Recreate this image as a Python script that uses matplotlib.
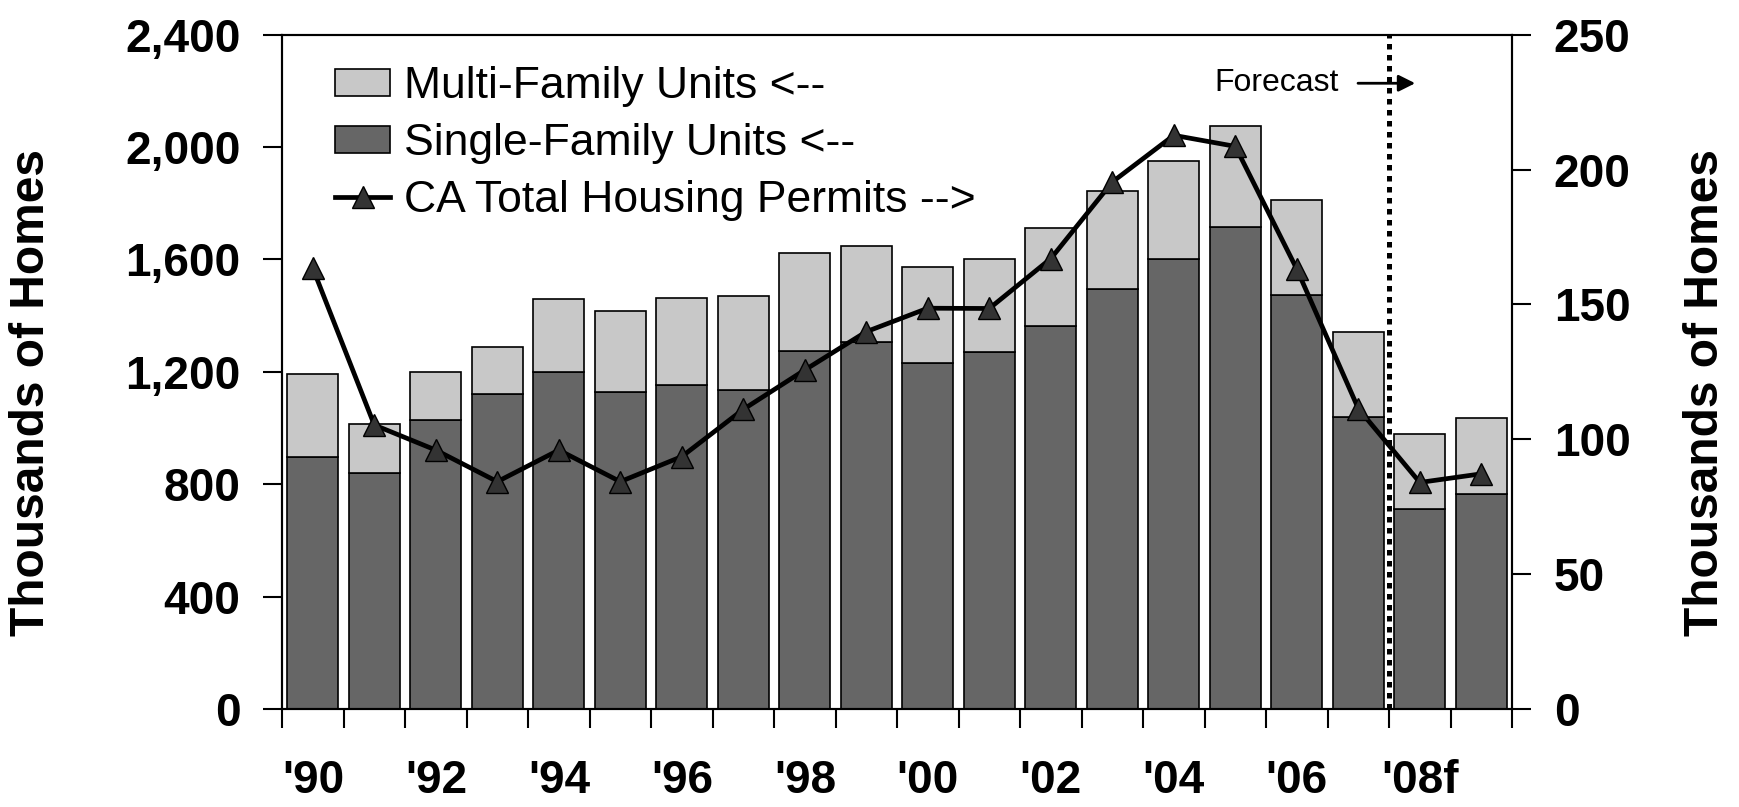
import numpy as np
import matplotlib.pyplot as plt
from matplotlib.ticker import FuncFormatter

plt.rcParams['font.family'] = ['Liberation Sans', 'DejaVu Sans']

# Data
years = ["'90", "'91", "'92", "'93", "'94", "'95", "'96", "'97", "'98", "'99",
         "'00", "'01", "'02", "'03", "'04", "'05", "'06", "'07", "'08f", "'09f"]
single_family = [896, 839, 1028, 1123, 1199, 1129, 1154, 1136, 1276, 1306,
                 1230, 1270, 1363, 1495, 1603, 1717, 1472, 1041, 712, 764]
multi_family = [297, 177, 171, 165, 259, 286, 310, 335, 347, 342,
                343, 333, 348, 348, 347, 359, 339, 302, 267, 271]
ca_permits = [163.4, 105.3, 96.0, 84.3, 96.0, 84.3, 93.6, 111.1, 125.7, 139.9,
              148.6, 148.5, 167.0, 195.4, 212.7, 208.6, 163.1, 111.4, 84.0, 87.2]

x = np.arange(len(years))

fig = plt.figure(figsize=(17.39, 8.07), dpi=100)
ax = fig.add_axes([0.1622, 0.1214, 0.7073, 0.8356])

b1 = ax.bar(x, single_family, width=0.83, color='#666666', edgecolor='black', linewidth=1.2,
            label='Single-Family Units <--')
b2 = ax.bar(x, multi_family, width=0.83, bottom=single_family, color='#C8C8C8',
            edgecolor='black', linewidth=1.2, label='Multi-Family Units <--')

ax.set_xlim(-0.5, len(years) - 0.5)
ax.set_ylim(0, 2400)
ax.set_yticks(np.arange(0, 2401, 400))
ax.yaxis.set_major_formatter(FuncFormatter(lambda v, p: f'{int(v):,}'))

# x ticks: marks at category boundaries, labels every other year
ax.set_xticks(x[::2])
ax.set_xticklabels(years[::2], fontsize=33, fontweight='bold',
                   family=['Liberation Sans Narrow', 'Liberation Sans'])
ax.set_xticks(np.arange(-0.5, len(years)), minor=True)
ax.tick_params(axis='x', which='major', length=0, pad=36)
ax.tick_params(axis='x', which='minor', length=14, width=1.5, direction='out')
ax.tick_params(axis='y', length=14, width=1.5, direction='out', pad=16,
               labelsize=33)
for t in ax.get_yticklabels():
    t.set_fontweight('bold')

for s in ax.spines.values():
    s.set_linewidth(1.5)

ax.set_ylabel('Thousands of Homes', fontsize=34.5, fontweight='bold')
ax.yaxis.set_label_coords(-0.1854, 0.47)

ax2 = ax.twinx()
ax2.set_ylim(0, 250)
ax2.set_yticks(np.arange(0, 251, 50))
ax2.tick_params(axis='y', length=14, width=1.5, direction='out', pad=16, labelsize=33)
for t in ax2.get_yticklabels():
    t.set_fontweight('bold')
ax2.set_ylabel('Thousands of Homes', fontsize=34.5, fontweight='bold', rotation=90)
ax2.yaxis.set_label_coords(1.139, 0.47)
for s in ax2.spines.values():
    s.set_linewidth(1.5)

# forecast divider
ax2.axvline(17.5, color='black', linewidth=3.6, linestyle=(0, (1.1, 1.1)),
            dash_capstyle='butt', zorder=2)

ln, = ax2.plot(x, ca_permits, color='black', linewidth=3.4, marker='^', markersize=16,
               markerfacecolor='#333333', markeredgecolor='black', markeredgewidth=1,
               label='CA Total Housing Permits -->', zorder=3)

ax2.annotate('', xy=(17.97, 232), xytext=(16.95, 232),
             arrowprops=dict(arrowstyle='-|>', color='black', lw=2, mutation_scale=25))
ax2.text(16.69, 232, 'Forecast', fontsize=23, ha='right', va='center')

ax2.legend([b2, b1, ln],
           ['Multi-Family Units <--', 'Single-Family Units <--', 'CA Total Housing Permits -->'],
           loc='upper left', bbox_to_anchor=(335 / 1739, 1 - 66 / 807),
           bbox_transform=fig.transFigure, frameon=False, fontsize=32,
           borderpad=0, borderaxespad=0, handlelength=1.24, handleheight=0.56,
           handletextpad=0.32, labelspacing=0.36)

fig.savefig('out.png', dpi=100)
